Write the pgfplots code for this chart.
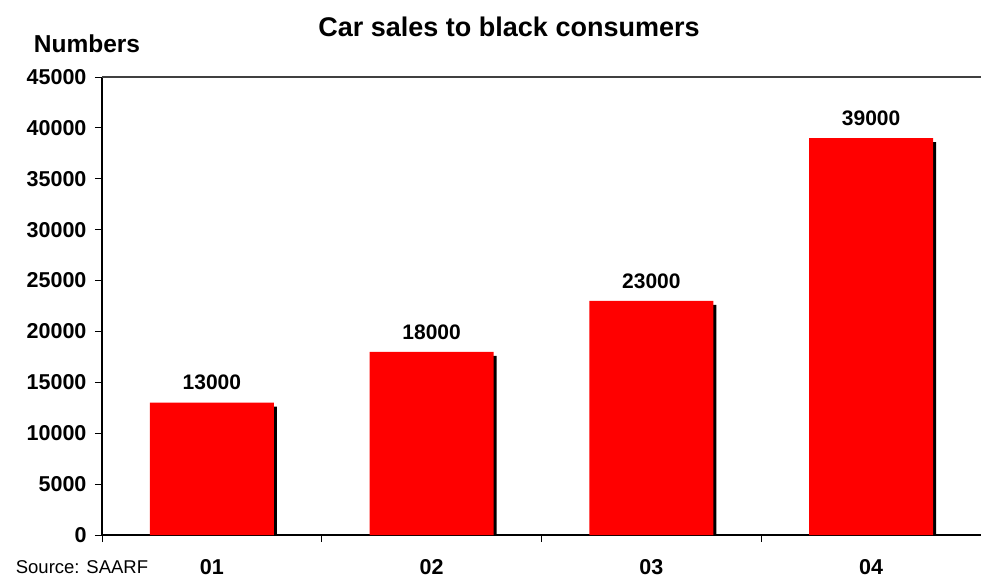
\documentclass[border=0pt]{standalone}
\usepackage{fontspec}
\setmainfont{Liberation Sans}
\usepackage{pgfplots}
\pgfplotsset{compat=1.18}
\begin{document}
\begin{tikzpicture}[x=1pt,y=1pt]
\path[use as bounding box] (0,0) rectangle (981,579);
\begin{axis}[
  at={(102pt,44pt)}, anchor=south west,
  scale only axis, width=879pt, height=458pt,
  xmin=0.5, xmax=4.5, ymin=0, ymax=45000,
  axis x line*=bottom, axis y line*=left,
  axis line style={black, line width=1.2pt, -},
  scaled y ticks=false,
  /pgf/number format/assume math mode=true,
  /pgf/number format/1000 sep={},
  ytick={0,5000,...,45000},
  yticklabel style={font=\fontsize{21.5}{24}\selectfont\bfseries, xshift=-5pt},
  tick align=outside, major tick length=7pt,
  tick style={black, line width=0.8pt},
  xtick={0.5,1.5,2.5,3.5}, xticklabels={},
  extra x ticks={1,2,3,4},
  extra x tick labels={01,02,03,04},
  extra x tick style={major tick length=0pt,
    xticklabel style={font=\fontsize{21.5}{24}\selectfont\bfseries, yshift=-21pt}},
  clip=true,
]
\addplot[ybar, fill=black, draw=none, bar width=124pt, bar shift=3pt, yshift=-4pt]
  coordinates {(1,13000) (2,18000) (3,23000) (4,39000)};
\addplot[ybar, fill=red, draw=none, bar width=124pt, bar shift=0pt,
  nodes near coords,
  every node near coord/.append style={font=\fontsize{21}{24}\selectfont\bfseries, anchor=south, yshift=9pt, black}]
  coordinates {(1,13000) (2,18000) (3,23000) (4,39000)};
\draw[black!75, line width=1.2pt] (rel axis cs:0,1) -- (rel axis cs:1,1);
\end{axis}
\node[font=\fontsize{27}{30}\selectfont\bfseries] at (509pt,552pt) {Car sales to black consumers};
\node[font=\fontsize{24.5}{27}\selectfont\bfseries] at (87pt,535pt) {Numbers};
\node[font=\fontsize{18.5}{21}\selectfont] at (82pt,12pt) {Source: SAARF};
\end{tikzpicture}
\end{document}
